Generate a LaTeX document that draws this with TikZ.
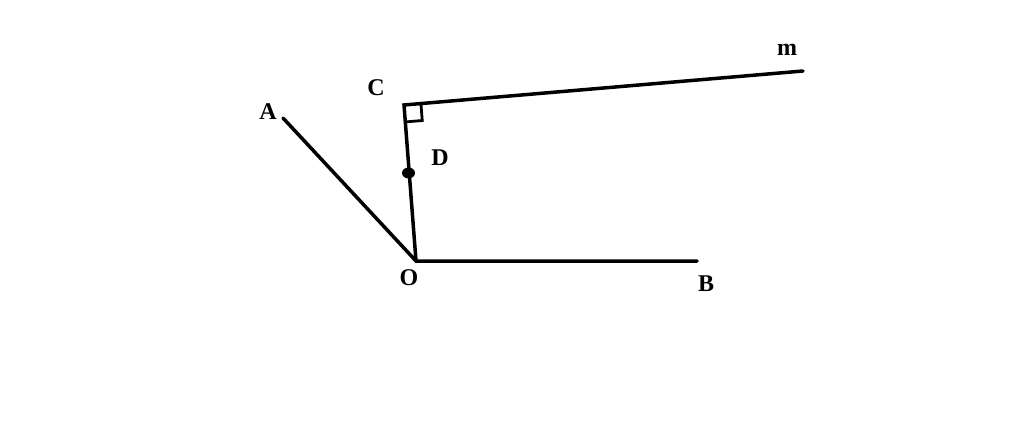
\documentclass[tikz,border=0pt]{standalone}
\usepackage{fontspec}
\setmainfont{Liberation Serif}
\usetikzlibrary{calc}
\begin{document}
\begin{tikzpicture}[x=1pt,y=-1pt,
  seg/.style={line width=3.5pt,line cap=round},
  lbl/.style={font=\fontsize{24}{26}\selectfont\bfseries,inner sep=0pt}]
\useasboundingbox[fill=white] (0,0) rectangle (1024,447);
\coordinate (O) at (416,261);
\coordinate (B) at (697,261);
\coordinate (A) at (283,118);
\coordinate (C) at (404,105);
\coordinate (M) at (803,71);
\coordinate (D) at (408.5,173);
\draw[seg] (A) -- (O) -- (B);
\draw[seg] (O) -- (C) -- (M);
\coordinate (S1) at ($(C)!17pt!(M)$);
\coordinate (S3) at ($(C)!17pt!(O)$);
\coordinate (S2) at ($(S1)+(S3)-(C)$);
\draw[line width=2.8pt] (S1) -- (S2) -- (S3);
\fill (D) circle[x radius=6.5pt,y radius=5.5pt];
\node[lbl] (lA) at (268,112) {A};
\node[lbl] (lC) at (376,88) {C};
\node[lbl] (lD) at (440,158) {D};
\node[lbl] (lO) at (409,278) {O};
\node[lbl] (lB) at (706,284) {B};
\node[lbl] (lm) at (787,50) {m};
\end{tikzpicture}
\end{document}
